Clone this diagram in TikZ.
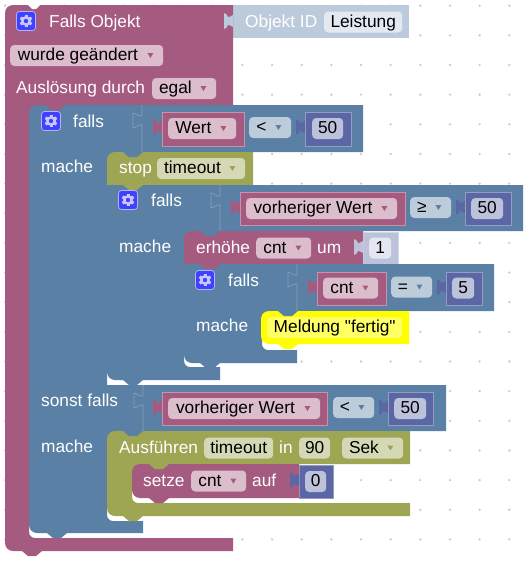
\documentclass[tikz,border=0pt]{standalone}
\usepackage{fontspec}
\setmainfont{Liberation Sans}
\newfontfamily\rawfont{Liberation Sans}
\definecolor{objpink}{HTML}{A55B80}
\definecolor{pinklight}{HTML}{DBBDCC}
\definecolor{logicblue}{HTML}{5B80A5}
\definecolor{bluelight}{HTML}{BDCCDB}
\definecolor{bluegrey}{HTML}{86A1BC}
\definecolor{timergreen}{HTML}{9EA553}
\definecolor{greenlight}{HTML}{D4D8B5}
\definecolor{numpurple}{HTML}{5B67A5}
\definecolor{purplelight}{HTML}{BDC2DB}
\definecolor{idblue}{HTML}{BCCBDC}
\definecolor{idlight}{HTML}{E4E9F1}
\definecolor{countblue}{HTML}{BDC2DB}
\definecolor{countlight}{HTML}{E4E6F1}
\definecolor{msgyellow}{HTML}{FFFF00}
\definecolor{yellowlight}{HTML}{FFFF66}
\definecolor{griddot}{HTML}{CCCCCC}
\tikzset{
    fieldbox/.style={rectangle, rounded corners=4, anchor=west, inner sep=0, minimum height=21, minimum width=#1, text height=13.2, text depth=2.8, text=black},
    dropfield/.style={execute at end node=\hspace{17.5pt}},
    pinkfield/.style={fieldbox=#1, fill=pinklight, dropfield},
    bluefield/.style={fieldbox=#1, fill=bluelight, dropfield},
    greenfield/.style={fieldbox=#1, fill=greenlight},
    greendrop/.style={greenfield=#1, dropfield},
    purplefield/.style={fieldbox=#1, fill=purplelight},
    blocktext/.style={anchor=west, inner sep=0, text height=12.5, text depth=3.5, text=white},
    blockgear/.pic={
        \filldraw[fill=blue!75!white, draw=blue!30!white, line width=.8, rounded corners=3] (-9.5,-9.5) rectangle (9.5,9.5);
        \foreach \a in {0,60,...,300}
            \fill[blue!22!white, rotate=\a] (-1.5,-6.4) rectangle (1.5,0);
        \fill[blue!22!white] (0,0) circle (5);
        \fill[blue!75!white] (0,0) circle (2.2);
    }
}
\newcommand{\notch}[3]{\fill[#1] (#2-10,#3) -- ++(6,5) -- ++(8,0) -- ++(6,-5) -- cycle;}
\newcommand{\cornerfill}[3]{\fill[#1] (#2,#3) rectangle ++(8,8);}
\newcommand{\socket}[3]{\draw[bluegrey, line width=.6] (#1,#2) -- ++(0,11) .. controls +(-4,1) and +(3,0) .. ++(-9,-3) -- ++(0,15) .. controls +(3,0) and +(-4,-1) .. ++(9,-3) -- (#1,#3);}
\newcommand{\valtab}[3]{\fill[#1] (#2,#3+9) .. controls +(-3,1) and +(1,1) .. ++(-5,2) .. controls +(-1,-2) and +(2,0) .. ++(-4,-4) -- ++(0,16) .. controls +(2,0) and +(-1,2) .. ++(4,-4) .. controls +(1,-1) and +(-3,-1) .. ++(5,2) -- cycle;}
\newcommand{\valblock}[5]{
    \valtab{#1}{#2}{#3}
    \filldraw[fill=#1, draw=white!35!#1, line width=.5] (#2,#3) rectangle (#4,#5);
}
\newcommand{\dropdown}[2]{\fill[#1] ([shift={(-16,-2.5)}]#2.east) -- ++(6,0) -- ++(-3,5) -- cycle;}
\begin{document}
\begin{tikzpicture}[x=1pt,y=-1pt,font=\fontsize{17.3}{20}\selectfont]
    \useasboundingbox (0,0) rectangle (530,562);
    \fill[white] (0,0) rectangle (530,562);
    \foreach \i in {0,...,17}
        \foreach \j in {0,...,18}
            \fill[griddot] (5.2+29.65*\i,5.7+29.65*\j) circle (1.3);

    \fill[idblue] (233,5) rectangle (409,38);
    \fill[objpink] (5,25) [rounded corners=8] -- (5,5) [sharp corners] -- (233,5) -- (233,105) -- (29,105) [rounded corners=6] -- (29,538) [sharp corners] -- (233,538) -- (233,551) [rounded corners=8] -- (5,551) [sharp corners] -- cycle;
    \valtab{idblue}{233}{6}
    \fill[white] (27,4) -- (32,9) -- (36,9) -- (41,4) -- cycle;
    \notch{objpink}{32}{551}
    \pic at (26,21) {blockgear};
    \node[blocktext] (hattext) at (49,23) {Falls Objekt};
    \node[blocktext] (idtext) at (245,23) {Objekt ID};
    \node[fieldbox=78, fill=idlight] (leistung) at (324,22) {Leistung};
    \node[pinkfield=153] (geaendert) at (10,55.5) {wurde geändert};
    \dropdown{objpink}{geaendert}
    \node[blocktext] (trigger) at (16,88.5) {Auslösung durch};
    \node[pinkfield=64] (egal) at (152,88.5) {egal};
    \dropdown{objpink}{egal}

    \cornerfill{objpink}{29}{105}
    \fill[logicblue] (29,125) [rounded corners=8] -- (29,105) [sharp corners] -- (363,105) -- (363,152) -- (107,152) -- (107,385) -- (446,385) -- (446,431) -- (107,431) [rounded corners=6] -- (107,521) [sharp corners] -- (143,521) -- (143,533) [rounded corners=8] -- (29,533) [sharp corners] -- cycle;
    \notch{objpink}{55}{105}
    \notch{logicblue}{57}{533}
    \socket{142}{105}{152}
    \socket{143}{385}{431}
    \pic at (51,121) {blockgear};
    \node[blocktext] (falls1) at (73,122.5) {falls};
    \node[blocktext] (mache1) at (41,167.5) {mache};
    \valblock{objpink}{162}{112}{244}{146}
    \node[pinkfield=68] (wert) at (168,128.5) {Wert};
    \dropdown{objpink}{wert}
    \node[bluefield=42] (op1) at (249,127.5) {<};
    \dropdown{logicblue}{op1}
    \valblock{numpurple}{305}{112}{351}{146}
    \node[purplefield=31] (num1) at (312,128.5) {50};

    \cornerfill{logicblue}{107}{152}
    \fill[timergreen] (107,170) [rounded corners=8] -- (107,152) [sharp corners] -- (253,152) -- (253,185) -- (107,185) -- cycle;
    \notch{logicblue}{133}{152}
    \node[blocktext] (stoptext) at (119,168.5) {stop};
    \node[greendrop=88] (timeout1) at (157,168.5) {timeout};
    \dropdown{timergreen}{timeout1}

    \fill[logicblue] (107,185) -- (523,185) -- (523,231) -- (184,231) [rounded corners=6] -- (184,367) [sharp corners] -- (220,367) -- (220,380) [rounded corners=8] -- (107,380) [sharp corners] -- cycle;
    \notch{timergreen}{133}{185}
    \notch{logicblue}{133}{380}
    \socket{220}{185}{231}
    \pic at (128,200) {blockgear};
    \node[blocktext] (falls2) at (151,201.5) {falls};
    \node[blocktext] (mache2) at (119,247.5) {mache};
    \valblock{objpink}{240}{192}{405}{225}
    \node[pinkfield=151] (vorher1) at (246,208.5) {vorheriger Wert};
    \dropdown{objpink}{vorher1}
    \node[bluefield=41] (op2) at (410,207.5) {≥};
    \dropdown{logicblue}{op2}
    \valblock{numpurple}{465}{192}{511}{225}
    \node[purplefield=32] (num2) at (471,208.5) {50};

    \filldraw[fill=countblue, draw=white!35!countblue, line width=.5] (363,232) rectangle (398,264);
    \cornerfill{logicblue}{184}{231}
    \fill[objpink] (184,250) [rounded corners=8] -- (184,231) [sharp corners] -- (363,231) -- (363,264) -- (184,264) -- cycle;
    \valtab{countblue}{363}{232}
    \notch{logicblue}{210}{231}
    \node[blocktext] (erhoehe) at (196,248.5) {erhöhe};
    \node[pinkfield=55] (cnt1) at (256,248) {cnt};
    \dropdown{objpink}{cnt1}
    \node[blocktext] (umtext) at (317,248.5) {um};
    \node[fieldbox=22, fill=countlight] (eins) at (369,248) {1};

    \fill[logicblue] (184,264) -- (494,264) -- (494,311) -- (262,311) [rounded corners=6] -- (262,350) [sharp corners] -- (297,350) -- (297,363) [rounded corners=8] -- (184,363) [sharp corners] -- cycle;
    \notch{objpink}{210}{264}
    \notch{logicblue}{210}{363}
    \socket{297}{264}{311}
    \pic at (205,280) {blockgear};
    \node[blocktext] (falls3) at (228,281.5) {falls};
    \node[blocktext] (mache3) at (196,326.5) {mache};
    \valblock{objpink}{317}{272}{386}{305}
    \node[pinkfield=55] (cnt2) at (323,288) {cnt};
    \dropdown{objpink}{cnt2}
    \node[bluefield=41] (op3) at (391,287) {=};
    \dropdown{logicblue}{op3}
    \valblock{numpurple}{446}{272}{482}{305}
    \node[purplefield=22] (fuenf) at (452,288) {5};

    \cornerfill{logicblue}{261}{311}
    \fill[msgyellow] (261,330) [rounded corners=8] -- (261,311) [sharp corners] -- (409,311) -- (409,344) [rounded corners=8] -- (261,344) [sharp corners] -- cycle;
    \notch{logicblue}{288}{311}
    \notch{msgyellow}{288}{344}
    \node[fieldbox=135, fill=yellowlight] (meldung) at (267,327.5) {\rawfont Meldung "fertig"};

    \node[blocktext] (sonst) at (41,401.5) {sonst falls};
    \node[blocktext] (mache4) at (41,447.5) {mache};
    \valblock{objpink}{162}{392}{327}{425}
    \node[pinkfield=152] (vorher2) at (168,408.5) {vorheriger Wert};
    \dropdown{objpink}{vorher2}
    \node[bluefield=41] (op4) at (333,407.5) {<};
    \dropdown{logicblue}{op4}
    \valblock{numpurple}{388}{392}{433}{425}
    \node[purplefield=32] (num4) at (394,408.5) {50};

    \cornerfill{logicblue}{107}{431}
    \fill[timergreen] (107,450) [rounded corners=8] -- (107,431) [sharp corners] -- (410,431) -- (410,464) -- (132,464) [rounded corners=6] -- (132,503) [sharp corners] -- (410,503) -- (410,516) [rounded corners=8] -- (107,516) [sharp corners] -- cycle;
    \notch{logicblue}{133}{431}
    \notch{timergreen}{133}{516}
    \node[blocktext] (ausfuehren) at (119,448.5) {Ausführen};
    \node[greenfield=69] (timeout2) at (204,448) {timeout};
    \node[blocktext] (intext) at (279,448.5) {in};
    \node[greenfield=31] (neunzig) at (299,448) {90};
    \node[greendrop=61] (sek) at (342,448) {Sek};
    \dropdown{timergreen}{sek}

    \filldraw[fill=numpurple, draw=white!35!numpurple, line width=.5] (299,465) rectangle (333,498);
    \cornerfill{timergreen}{132}{464}
    \fill[objpink] (132,485) [rounded corners=8] -- (132,464) [sharp corners] -- (299,464) -- (299,498) [rounded corners=8] -- (132,498) [sharp corners] -- cycle;
    \valtab{numpurple}{299}{465}
    \notch{timergreen}{159}{464}
    \notch{objpink}{159}{498}
    \node[blocktext] (setze) at (143,481.5) {setze};
    \node[pinkfield=55] (cnt3) at (191,481) {cnt};
    \dropdown{objpink}{cnt3}
    \node[blocktext] (auf) at (252,481.5) {auf};
    \node[purplefield=21] (null) at (305,481.5) {0};
\end{tikzpicture}
\end{document}
